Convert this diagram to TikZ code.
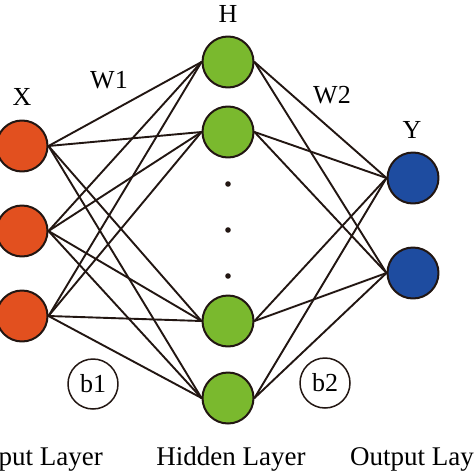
\documentclass[tikz,border=0pt]{standalone}
\usepackage{fontspec}
\setmainfont{Liberation Serif}
\definecolor{inred}{HTML}{E2501F}
\definecolor{hidgreen}{HTML}{7AB92E}
\definecolor{outblue}{HTML}{1E4CA0}
\definecolor{wire}{HTML}{221612}
\begin{document}
\begin{tikzpicture}[x=1pt,y=-1pt,line join=round,line cap=round,
 neuron/.style={circle,draw=wire,line width=2pt,minimum size=51pt,inner sep=0pt},
 bias/.style={circle,draw=wire,line width=1.5pt,minimum size=50pt,inner sep=0pt,font=\fontsize{26}{28}\selectfont},
 lbl/.style={inner sep=0pt,font=\fontsize{26}{28}\selectfont},
 layer/.style={inner sep=0pt,anchor=base,font=\fontsize{27}{30}\selectfont}]
 \useasboundingbox (0,0) rectangle (474,474);
 % neurons
 \node[neuron,fill=inred] (in1) at (22,146) {};
 \node[neuron,fill=inred] (in2) at (22,231) {};
 \node[neuron,fill=inred] (in3) at (22,316) {};
 \node[neuron,fill=hidgreen] (hid1) at (228,62) {};
 \node[neuron,fill=hidgreen] (hid2) at (228,132) {};
 \node[neuron,fill=hidgreen] (hid3) at (228,321) {};
 \node[neuron,fill=hidgreen] (hid4) at (228,398) {};
 \node[neuron,fill=outblue] (out1) at (413,178) {};
 \node[neuron,fill=outblue] (out2) at (413,273) {};
 % weights
 \foreach \i in {1,2,3} \foreach \j in {1,2,3,4}
  \draw[wire,line width=1.9pt] (in\i.east) -- (hid\j.west);
 \foreach \j in {1,2,3,4} \foreach \k in {1,2}
  \draw[wire,line width=1.9pt] (hid\j.east) -- (out\k.west);
 % dots
 \fill[wire] (228,184) circle(2.8pt) (228,230) circle(2.8pt) (228,276) circle(2.8pt);
 % biases
 \node[bias] (b1) at (93,384) {b1};
 \node[bias] (b2) at (325,383) {b2};
 % labels
 \node[lbl] (xl) at (22,97) {X};
 \node[lbl] (hl) at (228,14) {H};
 \node[lbl] (yl) at (412,130) {Y};
 \node[lbl] (w1) at (109,80) {W1};
 \node[lbl] (w2) at (332,95) {W2};
 \node[layer,anchor=base east] (inlay) at (103,465) {Input Layer};
 \node[layer] (hidlay) at (231,465) {Hidden Layer};
 \node[layer,anchor=base west] (outlay) at (350,465) {Output Layer};
\end{tikzpicture}
\end{document}
